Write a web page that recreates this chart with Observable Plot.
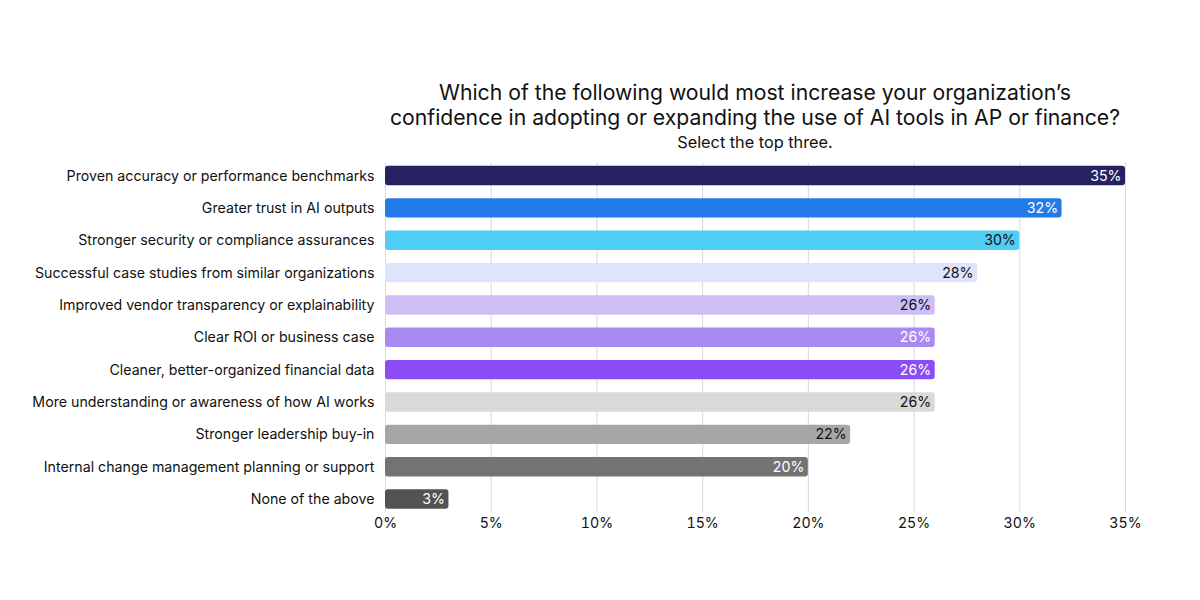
<!DOCTYPE html>
<html>
<head>
<meta charset="utf-8">
<script src="https://cdn.jsdelivr.net/npm/d3@7"></script>
<script src="https://cdn.jsdelivr.net/npm/@observablehq/plot@0.6"></script>
<style>
  body { margin: 0; background: #fff; font-family: Inter, "Noto Sans", sans-serif; }
  #wrap { position: relative; width: 1200px; height: 600px; }
  #title { position: absolute; left: 355px; width: 800px; top: 80px; text-align: center; color: #111; }
  #title .t { font-size: 21.2px; line-height: 25px; }
  #title .s { font-size: 16.3px; line-height: 25px; }
</style>
</head>
<body>
<div id="wrap">
  <div id="chart"></div>
  <div id="title">
    <div class="t">Which of the following would most increase your organization’s<br>confidence in adopting or expanding the use of AI tools in AP or finance?</div>
    <div class="s">Select the top three.</div>
  </div>
</div>
<script>
const categories = [
  "Proven accuracy or performance benchmarks",
  "Greater trust in AI outputs",
  "Stronger security or compliance assurances",
  "Successful case studies from similar organizations",
  "Improved vendor transparency or explainability",
  "Clear ROI or business case",
  "Cleaner, better-organized financial data",
  "More understanding or awareness of how AI works",
  "Stronger leadership buy-in",
  "Internal change management planning or support",
  "None of the above"
];
const values = [35, 32, 30, 28, 26, 26, 26, 26, 22, 20, 3];
const colors = ["#262262", "#237BEA", "#4FCDF5", "#DEE4FC", "#CDBEF5", "#A98AF0", "#8C4CF4", "#D9D9D9", "#A6A6A6", "#737373", "#535353"];
const labelColors = ["#fff", "#fff", "#111", "#111", "#111", "#fff", "#fff", "#111", "#111", "#fff", "#fff"];
const xTicks = [0, 5, 10, 15, 20, 25, 30, 35];

const data = categories.map((c, i) => ({category: c, value: values[i], color: colors[i], label: labelColors[i]}));

const chart = Plot.plot({
  width: 1200,
  height: 600,
  marginLeft: 385,
  marginRight: 75,
  marginTop: 162.6,
  marginBottom: 88,
  style: {fontFamily: "Inter, 'Noto Sans', sans-serif", fontSize: "14px", color: "#111", background: "#fff"},
  x: {domain: [0, 35], ticks: xTicks, tickFormat: d => d + "%", label: null},
  y: {domain: categories, paddingInner: 0.4, paddingOuter: 0.1, round: false, label: null},
  marks: [
    Plot.gridX(xTicks, {stroke: "#d9d9d9", strokeOpacity: 1, strokeWidth: 1}),
    Plot.barX(data, {y: "category", x: "value", fill: d => d.color, rx: 3}),
    Plot.text(data, {y: "category", x: "value", text: d => d.value + "%", fill: d => d.label, textAnchor: "end", dx: -4, fontSize: 14.2}),
    Plot.axisX(xTicks, {tickSize: 0, tickPadding: 5, tickFormat: d => d + "%", fontSize: 14.2, fill: "#111", label: null}),
    Plot.axisY({tickSize: 0, tickPadding: 11, fontSize: 14.2, fill: "#111", label: null})
  ]
});
document.getElementById("chart").appendChild(chart);
</script>
</body>
</html>
